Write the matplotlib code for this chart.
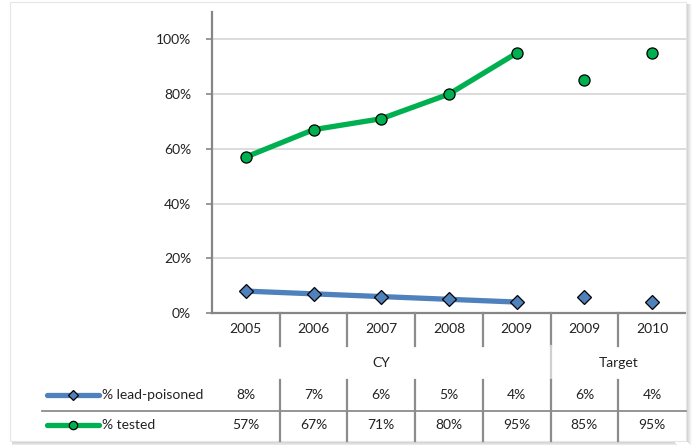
import matplotlib
matplotlib.use("Agg")
import matplotlib.pyplot as plt
from matplotlib.lines import Line2D
from matplotlib.patches import Rectangle
from matplotlib.transforms import blended_transform_factory
import numpy as np

plt.rcParams['font.family'] = ['Lato', 'DejaVu Sans']

# ---- data ----
years = ['2005', '2006', '2007', '2008', '2009', '2009', '2010']
groups = ['CY', 'CY', 'CY', 'CY', 'CY', 'Target', 'Target']
lead_cy = [8, 7, 6, 5, 4]
lead_target = [6, 4]
tested_cy = [57, 67, 71, 80, 95]
tested_target = [85, 95]
series_names = ['% lead-poisoned', '% tested']
yticks = [0, 20, 40, 60, 80, 100]

W, H = 692, 445
fig = plt.figure(figsize=(W / 100, H / 100), dpi=100)
fig.patch.set_facecolor('white')

def fx(px):
    return px / W

def fy(py):
    return 1 - py / H

# frame + shadow
for i, a in enumerate(np.linspace(0.4, 0.03, 6)):
    fig.add_artist(Rectangle((fx(686 + i), fy(441 + i)), fx(1), fy(4) - fy(441 + i),
                             transform=fig.transFigure, color='#7f7f7f', alpha=a, lw=0))
    fig.add_artist(Rectangle((fx(12), fy(442 + i)), fx(674 + i) - fx(12), fy(441 + i) - fy(442 + i),
                             transform=fig.transFigure, color='#7f7f7f', alpha=a, lw=0))
fig.add_artist(Rectangle((fx(10), fy(441)), fx(686) - fx(10), fy(2) - fy(441),
                         transform=fig.transFigure, fill=False, edgecolor='#e6e6e6', lw=0.8))

ax = fig.add_axes([fx(212), fy(313), fx(686) - fx(212), fy(12) - fy(313)])
x = np.arange(len(years))
n_cy = len(lead_cy)

blue = '#4F81BD'
green = '#00B050'

ax.plot(x[:n_cy], lead_cy, color=blue, lw=3.8, marker='D', ms=7.5,
        mfc=blue, mec='black', mew=0.9, zorder=3, solid_capstyle='butt')
ax.plot(x[n_cy:], lead_target, ls='none', marker='D', ms=7.5,
        mfc=blue, mec='black', mew=0.9, zorder=3)
ax.plot(x[:n_cy], tested_cy, color=green, lw=3.8, marker='o', ms=8,
        mfc=green, mec='black', mew=0.9, zorder=3, solid_capstyle='butt')
ax.plot(x[n_cy:], tested_target, ls='none', marker='o', ms=8,
        mfc=green, mec='black', mew=0.9, zorder=3)

fs = 10
ax.set_xlim(-0.5, len(years) - 0.5)
ax.set_ylim(0, 110)
ax.set_yticks(yticks)
ax.set_yticklabels([f'{v}%' for v in yticks], fontsize=fs, color='#222222')
ax.set_xticks([])
ax.grid(axis='y', color='#d9d9d9', lw=1.3)
ax.set_axisbelow(True)
for s in ['top', 'right']:
    ax.spines[s].set_visible(False)
for s in ['left', 'bottom']:
    ax.spines[s].set_color('#868686')
    ax.spines[s].set_linewidth(1.6)
ax.tick_params(axis='y', length=4, width=1.2, color='#868686', pad=11)

# ---- data table below ----
tr = blended_transform_factory(ax.transData, fig.transFigure)
lc = '#8c8c8c'

def vline(xd, y0, y1, color=lc, lw=1.6):
    fig.add_artist(Line2D([xd, xd], [fy(y0), fy(y1)], transform=tr, color=color, lw=lw))

for b in np.arange(0.5, len(years) - 0.5, 1):
    vline(b, 313, 346)
for i in range(1, len(groups)):
    if groups[i] != groups[i - 1]:
        vline(i - 0.5, 346, 380, color='#d0d0d0', lw=1.6)
for b in np.arange(0.5, len(years) - 0.5, 1):
    vline(b, 380, 441)
fig.add_artist(Line2D([fx(42), fx(686)], [fy(410.5), fy(410.5)],
                      transform=fig.transFigure, color=lc, lw=1.3))

for i, yr in enumerate(years):
    fig.text(i, fy(329), yr, transform=tr, ha='center', va='center', fontsize=fs, color='#222222')

uniq = []
for g in groups:
    if g not in uniq:
        uniq.append(g)
for g in uniq:
    idx = [i for i, gg in enumerate(groups) if gg == g]
    fig.text(np.mean(idx), fy(363), g, transform=tr, ha='center', va='center', fontsize=fs, color='#222222')

lead_all = lead_cy + lead_target
tested_all = tested_cy + tested_target
for i in range(len(years)):
    fig.text(i, fy(395), f'{lead_all[i]}%', transform=tr, ha='center', va='center', fontsize=fs, color='#222222')
    fig.text(i, fy(425), f'{tested_all[i]}%', transform=tr, ha='center', va='center', fontsize=fs, color='#222222')

for yy, col, mk, ms, name in [(395, blue, 'D', 5, series_names[0]), (425, green, 'o', 6, series_names[1])]:
    fig.add_artist(Line2D([fx(47), fx(99)], [fy(yy), fy(yy)], transform=fig.transFigure,
                          color=col, lw=3.8, solid_capstyle='round'))
    fig.add_artist(Line2D([fx(73)], [fy(yy)], transform=fig.transFigure, marker=mk, ms=ms,
                          mfc=col, mec='black', mew=0.9, ls='none'))
    fig.text(fx(102), fy(yy), name, transform=fig.transFigure, ha='left', va='center',
             fontsize=fs, color='#222222')

fig.savefig('out.png', dpi=100, facecolor='white')
